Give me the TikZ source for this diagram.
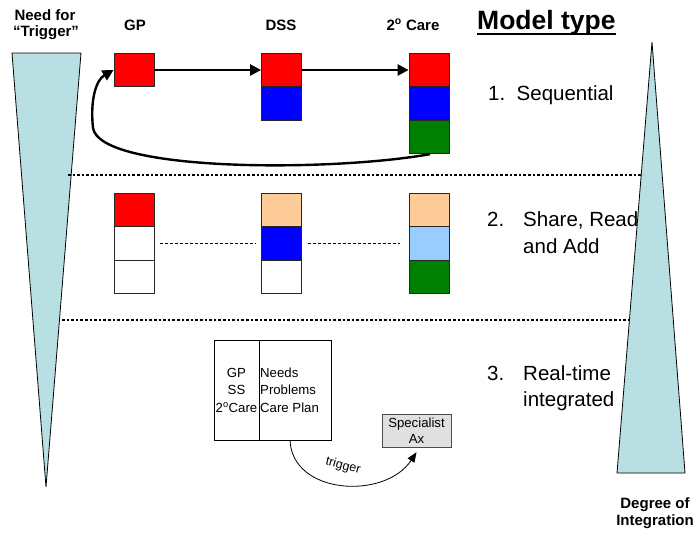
\documentclass[tikz,border=0pt]{standalone}
\usepackage{fontspec}
\setmainfont{Liberation Sans}
\usetikzlibrary{arrows.meta}
\definecolor{tri}{HTML}{B8DFE2}
\definecolor{peach}{HTML}{FFCC99}
\definecolor{lblue}{HTML}{99CCFF}
\definecolor{dgreen}{HTML}{008000}
\definecolor{spec}{HTML}{E0E0E0}
\begin{document}
\begin{tikzpicture}[x=1pt,y=-1pt,
  cell/.style={draw=black!85,line width=0.8pt,minimum width=40pt,minimum height=33.5pt,inner sep=0pt},
  hdr/.style={font=\fontsize{15}{15}\selectfont\bfseries,inner sep=0pt,anchor=base},
  model/.style={font=\fontsize{20.5}{27}\selectfont,inner sep=0pt,anchor=base west,align=left},
  small/.style={font=\fontsize{13.2}{17.5}\selectfont,inner sep=0pt,anchor=base},
  seqarrow/.style={line width=2.4pt,-{Triangle[length=11pt,width=11pt]}},
  dotline/.style={line width=2.6pt,dotted},
  dashline/.style={line width=0.6pt,dash pattern=on 3pt off 2pt}]
\useasboundingbox (0,0) rectangle (696,533);
% triangles
\filldraw[fill=tri,draw=black,line width=0.8pt] (12,53) -- (81,53) -- (46,487) -- cycle;
\filldraw[fill=tri,draw=black,line width=0.8pt] (652,42) -- (685,473) -- (617,473) -- cycle;
% headers
\node[hdr] (need1) at (45,20) {Need for};
\node[hdr] (need2) at (46,36) {“Trigger”};
\node[hdr] (hgp) at (135,30) {GP};
\node[hdr] (hdss) at (281,30) {DSS};
\node[hdr] (hcare) at (413,30) {2\textsuperscript{o} Care};
\node[font=\fontsize{26.5}{26}\selectfont\bfseries,inner sep=0pt,anchor=base west] (mt) at (477,29) {Model type};
\draw[line width=2.4pt] ([yshift=-5pt]mt.base west) -- ([yshift=-5pt]mt.base east);
% model type labels
\node[model] (m1) at (488,100) {1.\ \ Sequential};
\node[model] (m2n) at (487,226) {2.};
\node[model] (m2a) at (523,226) {Share, Read};
\node[model] (m2b) at (523,253) {and Add};
\node[model] (m3n) at (487,380) {3.};
\node[model] (m3a) at (523,380) {Real-time};
\node[model] (m3b) at (523,406) {integrated};
% dotted separators
\coordinate (d1a) at (68,175); \coordinate (d1b) at (643,175);
\coordinate (d2a) at (62,320); \coordinate (d2b) at (630,320);
\draw[dotline] (d1a) -- (d1b);
\draw[dotline] (d2a) -- (d2b);
% row 1
\node[cell,fill=red] (gp1) at (134,70) {};
\node[cell,fill=red] (dss1) at (281.5,70) {};
\node[cell,fill=blue] (dss2) at (281.5,103.5) {};
\node[cell,fill=red] (c1) at (429,70) {};
\node[cell,fill=blue] (c2) at (429,103.5) {};
\node[cell,fill=dgreen] (c3) at (429,137) {};
\draw[seqarrow] (gp1.east) -- (dss1.west);
\draw[seqarrow] (dss1.east) -- (c1.west);
\draw[seqarrow] ([xshift=1pt]c3.south) .. controls (330,172) and (100,172) .. (93,128) .. controls (90,100) and (96,80) .. (gp1.west);
% row 2
\node[cell,fill=red] (gpa) at (134,210) {};
\node[cell,fill=white] (gpb) at (134,243.5) {};
\node[cell,fill=white] (gpc) at (134,277) {};
\node[cell,fill=peach] (dssa) at (281.5,210) {};
\node[cell,fill=blue] (dssb) at (281.5,243.5) {};
\node[cell,fill=white] (dssc) at (281.5,277) {};
\node[cell,fill=peach] (ca) at (429,210) {};
\node[cell,fill=lblue] (cb) at (429,243.5) {};
\node[cell,fill=dgreen] (cc) at (429,277) {};
\draw[dashline] ([xshift=6pt]gpb.east) -- ([xshift=-5pt]dssb.west);
\draw[dashline] ([xshift=6pt]dssb.east) -- ([xshift=-9pt]cb.west);
% row 3
\node[draw=black,line width=0.8pt,minimum width=45pt,minimum height=100pt,inner sep=0pt] (left3) at (236.5,390) {};
\node[draw=black,line width=0.8pt,minimum width=72pt,minimum height=100pt,inner sep=0pt,anchor=west] (right3) at (left3.east) {};
\node[small] (l3a) at (236.5,377) {GP};
\node[small] (l3b) at (236.5,394.5) {SS};
\node[small] (l3c) at (236.5,412) {2\textsuperscript{o}Care};
\node[small,anchor=base west] (r3a) at (260,377) {Needs};
\node[small,anchor=base west] (r3b) at (260,394.5) {Problems};
\node[small,anchor=base west] (r3c) at (260,412) {Care Plan};
\node[draw=black!70,fill=spec,minimum width=69pt,minimum height=33pt,inner sep=0pt,
  font=\fontsize{13.2}{16}\selectfont,align=center] (specx) at (416.5,430.5) {Specialist\\Ax};
\coordinate (trgend) at ([yshift=-5pt]specx.south);
\coordinate (trgstart) at (290,440);
\draw[line width=0.8pt,-{Triangle[length=10pt,width=8pt]}] (trgstart) .. controls (292,495) and (385,500) .. (trgend);
\node[font=\fontsize{12.5}{12}\selectfont,rotate=-15,inner sep=0pt] (trig) at (343,466) {trigger};
% degree of integration
\node[hdr] (deg1) at (655,508) {Degree of};
\node[hdr] (deg2) at (655,525) {Integration};
\end{tikzpicture}
\end{document}
